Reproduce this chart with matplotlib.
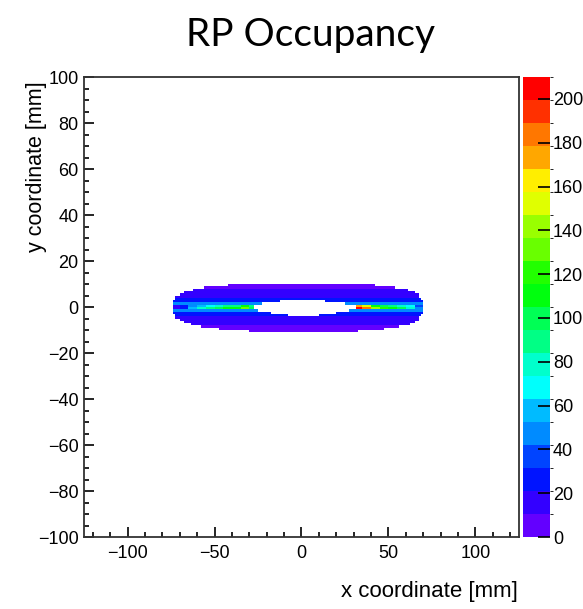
#!/usr/bin/env python3
# -*- coding: utf-8 -*-
"""RP occupancy map: 2D hit histogram of the roman pot, ROOT COLZ style."""

import colorsys
import numpy as np
import matplotlib
matplotlib.use("Agg")
import matplotlib.pyplot as plt
from matplotlib.colors import ListedColormap, BoundaryNorm
from matplotlib.font_manager import FontProperties
from matplotlib.ticker import MultipleLocator

# --- values ----------------------------------------------------------------
# one entry per 1 mm row (row centre in mm), outer x edges of the ring
ROW_Y = [9.5, 8.5, 7.5, 6.5, 5.5, 4.5, 3.5, 2.5, 1.5, 0.5,
         -0.5, -1.5, -2.5, -3.5, -4.5, -5.5, -6.5, -7.5, -8.5, -9.5, -10.5]
ROW_LEFT = [-42, -56, -63, -67, -70, -72, -73, -74, -74, -74,
            -74, -74, -74, -73, -72, -70, -68, -64, -58, -48, -30]
ROW_RIGHT = [42, 54, 61, 65, 67, 68, 69, 70, 70, 70,
             70, 70, 70, 69, 68, 67, 65, 62, 56, 47, 32]
# empty hole in the middle of the ring (0, 0 = no hole in that row)
HOLE_LEFT = [0, 0, 0, 0, 0, 0, 0, -12, -22, -28,
             -28, -25, -18, -8, 0, 0, 0, 0, 0, 0, 0]
HOLE_RIGHT = [0, 0, 0, 0, 0, 0, 0, 14, 25, 31,
              31, 28, 20, 10, 0, 0, 0, 0, 0, 0, 0]
# typical counts per row away from the bright central band
ROW_COUNTS = [6, 9, 12, 14, 16, 18, 22, 28, 42, 0,
              0, 42, 28, 22, 18, 16, 14, 12, 9, 7, 5]

# bright band at y ~ 0, in 5 mm blocks from x = -75 to 70
BAND_EDGES = list(range(-75, 75, 5))
BAND_UPPER = [12, 25, 48, 62, 72, 80, 85, 92, 105, 85,
              0, 0, 0, 0, 0, 0, 0, 0, 0, 0, 0,
              175, 150, 115, 100, 90, 80, 66, 38]
BAND_LOWER = [15, 30, 55, 75, 90, 100, 105, 115, 130, 100,
              0, 0, 0, 0, 0, 0, 0, 0, 0, 0, 0,
              200, 180, 140, 120, 105, 95, 80, 45]

Z_MAX = 210
COLORBAR_TICKS = list(range(0, 201, 20))


def root_palette(ncont=20, ncolors=50):
    """Old ROOT 'pretty' palette (violet -> red), picked per contour."""
    cols = []
    for i in range(ncont):
        j = int((i + 0.99) * ncolors / ncont)
        hue = 280.0 - (j + 1) * (280.0 / ncolors)
        cols.append(colorsys.hls_to_rgb(hue / 360.0, 0.5, 1.0))
    return ListedColormap(cols)


def build_hist():
    xedges = np.linspace(-125, 125, 201)
    yedges = np.linspace(-100, 100, 201)
    xc = 0.5 * (xedges[:-1] + xedges[1:])
    yc = 0.5 * (yedges[:-1] + yedges[1:])
    z = np.full((len(yc), len(xc)), np.nan)
    for r, y in enumerate(ROW_Y):
        iy = np.argmin(np.abs(yc - y))
        inside = (xc >= ROW_LEFT[r]) & (xc <= ROW_RIGHT[r])
        if HOLE_RIGHT[r] > HOLE_LEFT[r]:
            inside &= ~((xc > HOLE_LEFT[r]) & (xc < HOLE_RIGHT[r]))
        if y == 0.5 or y == -0.5:
            band = BAND_UPPER if y > 0 else BAND_LOWER
            ib = np.clip(np.searchsorted(BAND_EDGES, xc, side="right") - 1,
                         0, len(band) - 1)
            vals = np.array(band, dtype=float)[ib]
        else:
            vals = np.full(len(xc), float(ROW_COUNTS[r]))
        z[iy, inside] = vals[inside]
    return xedges, yedges, np.ma.masked_invalid(z)


def main():
    fig = plt.figure(figsize=(5.83, 6.09), dpi=100)
    ax = fig.add_axes([0.1441, 0.1182, 0.7461, 0.7553])
    cax = fig.add_axes([0.8971, 0.1182, 0.0463, 0.7553])

    cmap = root_palette()
    levels = np.linspace(0, Z_MAX, 21)
    norm = BoundaryNorm(levels, cmap.N)

    xedges, yedges, z = build_hist()
    mesh = ax.pcolormesh(xedges, yedges, z, cmap=cmap, norm=norm)

    ax.set_xlim(-125, 125)
    ax.set_ylim(-100, 100)
    ax.xaxis.set_major_locator(MultipleLocator(50))
    ax.xaxis.set_minor_locator(MultipleLocator(10))
    ax.yaxis.set_major_locator(MultipleLocator(20))
    ax.yaxis.set_minor_locator(MultipleLocator(5))
    tick_font = FontProperties(family="Liberation Sans", size=13)
    ax.tick_params(which="both", direction="in", colors="black",
                   top=False, right=False, width=1.2)
    ax.tick_params(which="major", length=7.5)
    ax.tick_params(which="minor", length=3.8)
    ax.tick_params(axis="x", pad=6)
    ax.tick_params(axis="y", pad=4)
    for lab in ax.get_xticklabels() + ax.get_yticklabels():
        lab.set_fontproperties(tick_font)
    for sp in ax.spines.values():
        sp.set_linewidth(1.3)
        sp.set_color("#333333")

    cb = fig.colorbar(mesh, cax=cax, ticks=COLORBAR_TICKS)
    cb.outline.set_visible(False)
    cax.set_ylim(0, Z_MAX)
    cax.tick_params(direction="in", length=9, width=1.2, pad=2,
                    colors="black", right=True, left=False)
    cax.yaxis.set_ticks_position("right")
    for lab in cax.get_yticklabels():
        lab.set_fontproperties(tick_font)

    fig.text(0.532, 0.943, "RP Occupancy", family="Lato", fontsize=28,
             ha="center", va="center")
    fig.text(0.888, 0.028, "x coordinate [mm]", family="Liberation Sans",
             fontsize=16, ha="right", va="center")
    fig.text(0.063, 0.866, "y coordinate [mm]", family="Liberation Sans",
             fontsize=15.5, ha="center", va="top", rotation=90)

    fig.savefig("out.png", dpi=100)
    plt.close(fig)


if __name__ == "__main__":
    main()
